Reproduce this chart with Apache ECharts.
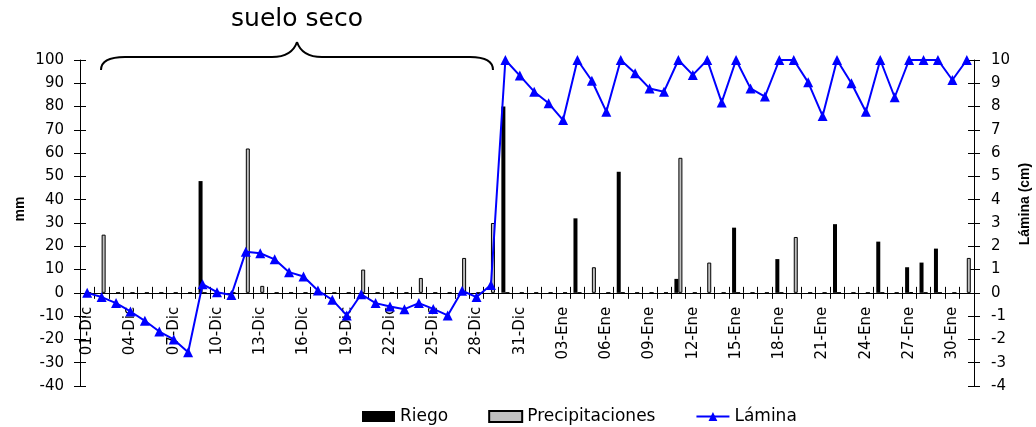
<!DOCTYPE html>
<html>
<head>
<meta charset="utf-8">
<script src="https://cdn.jsdelivr.net/npm/echarts@6/dist/echarts.min.js"></script>
<style>
html,body{margin:0;padding:0;background:#fff;}
#chart{width:1036px;height:427px;}
</style>
</head>
<body>
<div id="chart"></div>
<script>
const categories = [
 '01-Dic','02-Dic','03-Dic','04-Dic','05-Dic','06-Dic','07-Dic','08-Dic','09-Dic','10-Dic',
 '11-Dic','12-Dic','13-Dic','14-Dic','15-Dic','16-Dic','17-Dic','18-Dic','19-Dic','20-Dic',
 '21-Dic','22-Dic','23-Dic','24-Dic','25-Dic','26-Dic','27-Dic','28-Dic','29-Dic','30-Dic','31-Dic',
 '01-Ene','02-Ene','03-Ene','04-Ene','05-Ene','06-Ene','07-Ene','08-Ene','09-Ene','10-Ene',
 '11-Ene','12-Ene','13-Ene','14-Ene','15-Ene','16-Ene','17-Ene','18-Ene','19-Ene','20-Ene',
 '21-Ene','22-Ene','23-Ene','24-Ene','25-Ene','26-Ene','27-Ene','28-Ene','29-Ene','30-Ene','31-Ene'
];
// mm
const riego = [
 0,0,0,0,0,0,0,0,48,0,
 0,0,0,0,0,0,0,0,0,0,
 0,0,0,0,0,0,0,0,0,80,0,
 0,0,0,32,0,0,52,0,0,0,
 6,0,0,0,28,0,0,14.5,0,0,
 0,29.5,0,0,22,0,11,13,19,0,0
];
const precipitaciones = [
 0,25,0,0,0,0,0,0,0,0,
 0,62,3,0,0,0,0,0,0,10,
 0,0,0,6.4,0,0,15,0,30,0,0,
 0,0,0,0,11,0,0,0,0,0,
 58,0,13,0,0,0,0,0,24,0,
 0,0,0,0,0,0,0.3,0,0,0,15
];
// cm
const lamina = [
 0,-0.18,-0.44,-0.8,-1.2,-1.66,-2.0,-2.55,0.37,0.03,
 -0.09,1.77,1.7,1.44,0.89,0.7,0.1,-0.3,-0.97,-0.06,
 -0.44,-0.59,-0.7,-0.44,-0.69,-0.97,0.09,-0.18,0.34,10,9.33,
 8.64,8.14,7.42,10,9.11,7.78,10,9.43,8.78,8.64,
 10,9.36,10,8.18,10,8.78,8.43,10,10,9.04,
 7.6,10,9.0,7.78,10,8.4,10,10,10,9.14,10
];

const FONT = 'DejaVu Sans';
const chart = echarts.init(document.getElementById('chart'), null, {renderer:'canvas'});

const noLabel = {show:false};
const noSplit = {show:false};
const braceStyle = {fill:'none', stroke:'#000', lineWidth:2};
// plot area: top 60, bottom 386; mm axis -40..100 -> zero line sits 40/140 of height above bottom
const X_OFFSET = -(386 - 60) * 40 / 140;

const option = {
  animation:false,
  backgroundColor:'#fff',
  grid:{left:80, right:62, top:60, bottom:41, containLabel:false, outerBoundsMode:'none'},
  legend:{
    left:362, top:408, padding:0, itemWidth:33, itemHeight:11, itemGap:40,
    textStyle:{fontFamily:FONT, fontSize:17, color:'#000'},
    data:[{name:'Riego', icon:'rect'},{name:'Precipitaciones', icon:'rect'},{name:'Lámina'}]
  },
  xAxis:[
    {type:'category', data:categories, position:'bottom', offset:X_OFFSET, boundaryGap:true,
     axisLine:{show:true, onZero:false, lineStyle:{color:'#000', width:1}},
     axisTick:{show:true, interval:0, length:6, inside:false, lineStyle:{color:'#000'}},
     axisLabel:{show:true, interval:2, rotate:90, margin:14, fontFamily:FONT, fontSize:15, color:'#000'},
     splitLine:noSplit},
    {type:'category', data:categories, position:'bottom', offset:X_OFFSET, boundaryGap:true,
     axisLine:{show:false, onZero:false},
     axisTick:{show:true, interval:0, length:6, inside:true, lineStyle:{color:'#000'}},
     axisLabel:noLabel, splitLine:noSplit}
  ],
  yAxis:[
    {type:'value', position:'left', min:-40, max:100, interval:10,
     axisLine:{show:true, onZero:false, lineStyle:{color:'#000', width:1}},
     axisTick:{show:true, length:6, lineStyle:{color:'#000'}},
     axisLabel:{margin:16, fontFamily:FONT, fontSize:15, color:'#000'},
     splitLine:noSplit},
    {type:'value', position:'right', min:-4, max:10, interval:1,
     axisLine:{show:true, onZero:false, lineStyle:{color:'#000', width:1}},
     axisTick:{show:true, length:6, lineStyle:{color:'#000'}},
     axisLabel:{margin:17, fontFamily:FONT, fontSize:15, color:'#000'},
     splitLine:noSplit},
    {type:'value', position:'left', min:-40, max:100, interval:10,
     axisLine:{show:false, onZero:false},
     axisTick:{show:true, length:6, inside:true, lineStyle:{color:'#000'}},
     axisLabel:noLabel, splitLine:noSplit},
    {type:'value', position:'right', min:-4, max:10, interval:1,
     axisLine:{show:false, onZero:false},
     axisTick:{show:true, length:6, inside:true, lineStyle:{color:'#000'}},
     axisLabel:noLabel, splitLine:noSplit}
  ],
  series:[
    {name:'Riego', type:'bar', xAxisIndex:0, yAxisIndex:0, data:riego,
     barWidth:4, barGap:'0%', itemStyle:{color:'#000'}, z:2},
    {name:'Precipitaciones', type:'bar', xAxisIndex:0, yAxisIndex:0, data:precipitaciones,
     barWidth:4, barGap:'0%', itemStyle:{color:'#C0C0C0', borderColor:'#000', borderWidth:1}, z:2},
    {name:'Lámina', type:'line', xAxisIndex:0, yAxisIndex:1, data:lamina,
     symbol:'triangle', symbolSize:10, showAllSymbol:true,
     lineStyle:{color:'#0000FF', width:2}, itemStyle:{color:'#0000FF'}, z:5}
  ],
  graphic:[
    {type:'text', x:297, y:19, style:{text:'suelo seco', fontFamily:FONT, fontSize:25, fill:'#000', align:'center', verticalAlign:'middle'}},
    {type:'bezierCurve', shape:{x1:101,y1:70,cpx1:101,cpy1:57,x2:125,y2:57}, style:braceStyle},
    {type:'line', shape:{x1:125,y1:57,x2:272,y2:57}, style:braceStyle},
    {type:'bezierCurve', shape:{x1:272,y1:57,cpx1:292,cpy1:57,x2:297,y2:42}, style:braceStyle},
    {type:'bezierCurve', shape:{x1:297,y1:42,cpx1:302,cpy1:57,x2:322,y2:57}, style:braceStyle},
    {type:'line', shape:{x1:322,y1:57,x2:470,y2:57}, style:braceStyle},
    {type:'bezierCurve', shape:{x1:470,y1:57,cpx1:493,cpy1:57,x2:493,y2:70}, style:braceStyle},
    {type:'text', x:20, y:209, rotation:Math.PI/2, style:{text:'mm', fontFamily:'Liberation Sans', fontWeight:'bold', fontSize:14, fill:'#000', align:'center', verticalAlign:'middle'}},
    {type:'text', x:1025, y:204, rotation:Math.PI/2, style:{text:'Lámina (cm)', fontFamily:'Liberation Sans', fontWeight:'bold', fontSize:14, fill:'#000', align:'center', verticalAlign:'middle'}}
  ]
};
chart.setOption(option);
</script>
</body>
</html>
